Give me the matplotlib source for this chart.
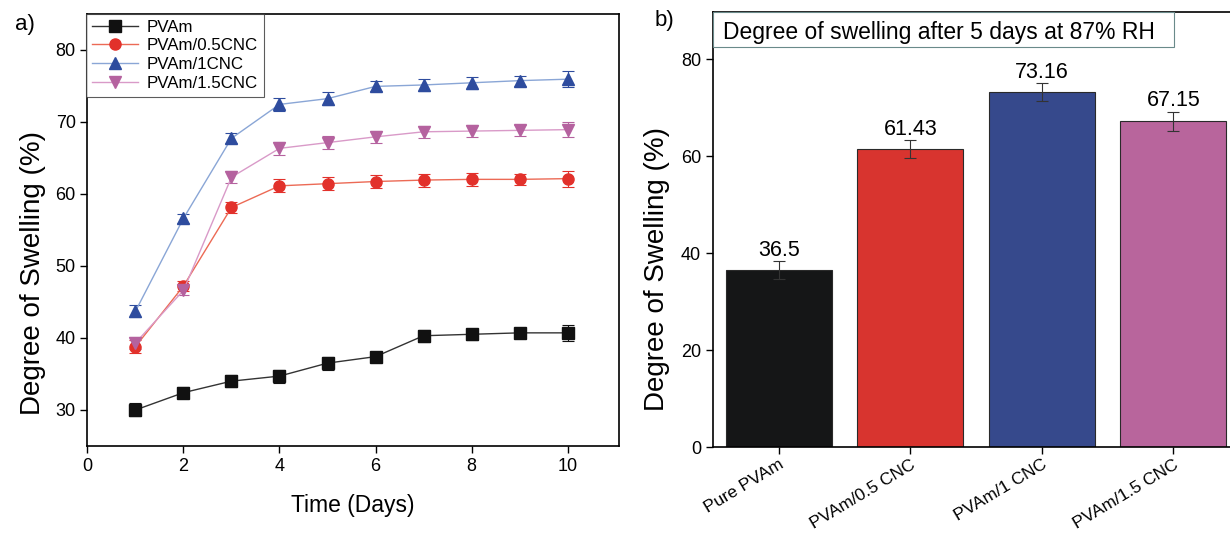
import numpy as np
import matplotlib
matplotlib.use('Agg')
import matplotlib.pyplot as plt
from matplotlib.patches import Rectangle

plt.rcParams['font.family'] = ['Liberation Sans', 'DejaVu Sans']

# panel a data
days = [1, 2, 3, 4, 5, 6, 7, 8, 9, 10]
pvam = [30.0, 32.4, 34.0, 34.7, 36.5, 37.4, 40.3, 40.5, 40.7, 40.7]
pvam_05 = [38.8, 47.2, 58.1, 61.1, 61.4, 61.7, 61.9, 62.0, 62.0, 62.1]
pvam_1 = [43.7, 56.6, 67.7, 72.4, 73.2, 74.9, 75.1, 75.4, 75.7, 75.9]
pvam_15 = [39.3, 46.6, 62.3, 66.3, 67.1, 67.9, 68.6, 68.7, 68.8, 68.9]
err_pvam = [0.9, 0.8, 0.8, 0.9, 0.9, 0.7, 0.8, 0.8, 0.7, 1.1]
err_05 = [0.9, 0.7, 0.8, 0.9, 0.9, 0.9, 0.9, 0.9, 0.8, 1.1]
err_1 = [0.8, 0.6, 0.7, 0.9, 0.9, 0.7, 0.8, 0.8, 0.7, 1.1]
err_15 = [0.8, 0.7, 0.8, 0.9, 0.9, 0.8, 0.8, 0.8, 0.8, 1.0]

# panel b data
samples = ['Pure PVAm', 'PVAm/0.5 CNC', 'PVAm/1 CNC', 'PVAm/1.5 CNC']
swelling = [36.5, 61.43, 73.16, 67.15]
swelling_err = [1.8, 1.8, 1.8, 2.0]

fig = plt.figure(figsize=(12.3, 5.34), dpi=100)

# ---- panel a ----
ax1 = fig.add_axes([0.0711, 0.1648, 0.4321, 0.8097])
series = [
    (pvam, err_pvam, 'PVAm', 's', '#111111', '#333333'),
    (pvam_05, err_05, 'PVAm/0.5CNC', 'o', '#e2312b', '#ec6a55'),
    (pvam_1, err_1, 'PVAm/1CNC', '^', '#2e4c9e', '#8aa6d6'),
    (pvam_15, err_15, 'PVAm/1.5CNC', 'v', '#b5629f', '#d99ac8'),
]
handles = []
for y, e, lab, mk, mc, lc in series:
    c = ax1.errorbar(days, y, yerr=e, color=lc, lw=1, marker=mk, ms=8,
                     mfc=mc, mec=mc, ecolor=mc, elinewidth=0.8, capsize=4,
                     capthick=0.8, label=lab)
    handles.append(c[0])
ax1.set_xlim(0, 11.07)
ax1.set_ylim(25, 85)
ax1.set_xticks([0, 2, 4, 6, 8, 10])
ax1.set_yticks([30, 40, 50, 60, 70, 80])
ax1.tick_params(labelsize=13, direction='out', length=5, width=1)
ax1.set_xlabel('Time (Days)', fontsize=16.5, labelpad=14)
ax1.set_ylabel('Degree of Swelling (%)', fontsize=20)
ax1.yaxis.set_label_coords(-0.078, 0.40)
for s in ax1.spines.values():
    s.set_linewidth(1.2)
leg = ax1.legend(handles=handles, labels=[s[2] for s in series],
                 loc='upper left', bbox_to_anchor=(-0.002, 1.0), fontsize=12.2,
                 frameon=True, fancybox=False, edgecolor='#333333',
                 borderaxespad=0, handlelength=2.7, labelspacing=0.22,
                 borderpad=0.35, handletextpad=0.5)
leg.get_frame().set_linewidth(0.8)
fig.text(0.012, 0.955, 'a)', fontsize=16, va='center')

# ---- panel b ----
ax2 = fig.add_axes([0.5797, 0.1629, 0.4203, 0.8146])
bar_colors = ['#151617', '#d8342f', '#36498c', '#b8659c']
x = np.arange(len(samples))
ax2.bar(x, swelling, width=0.805, color=bar_colors, edgecolor='#2a2a2a', lw=0.8,
        yerr=swelling_err, ecolor='#333333', capsize=4,
        error_kw={'elinewidth': 0.8, 'capthick': 0.8})
for xi, v, e in zip(x, swelling, swelling_err):
    ax2.text(xi, v + e + 1.1, f'{v:g}', ha='center', va='baseline', fontsize=15.5)
ax2.set_xlim(-0.5, 3.43)
ax2.set_ylim(0, 89.7)
ax2.set_yticks([0, 20, 40, 60, 80])
ax2.set_xticks(x)
ax2.set_xticklabels(samples, rotation=31, ha='right', rotation_mode='anchor', fontsize=12.5)
ax2.tick_params(axis='y', labelsize=13, direction='out', length=5, width=1)
ax2.tick_params(axis='x', direction='out', length=5, width=1, pad=2)
ax2.set_ylabel('Degree of Swelling (%)', fontsize=20)
ax2.yaxis.set_label_coords(-0.084, 0.41)
for s in ax2.spines.values():
    s.set_linewidth(1.2)
ax2.spines['right'].set_visible(False)
ax2.add_patch(Rectangle((0, 0.919), 0.892, 0.081, transform=ax2.transAxes,
                        fc='white', ec='#6a8a8a', lw=0.8, zorder=5, clip_on=False))
ax2.text(0.019, 0.938, 'Degree of swelling after 5 days at 87% RH', transform=ax2.transAxes,
         ha='left', va='baseline', fontsize=16.5, zorder=6)
fig.text(0.532, 0.962, 'b)', fontsize=16, va='center')

plt.savefig('out.png', dpi=100)
